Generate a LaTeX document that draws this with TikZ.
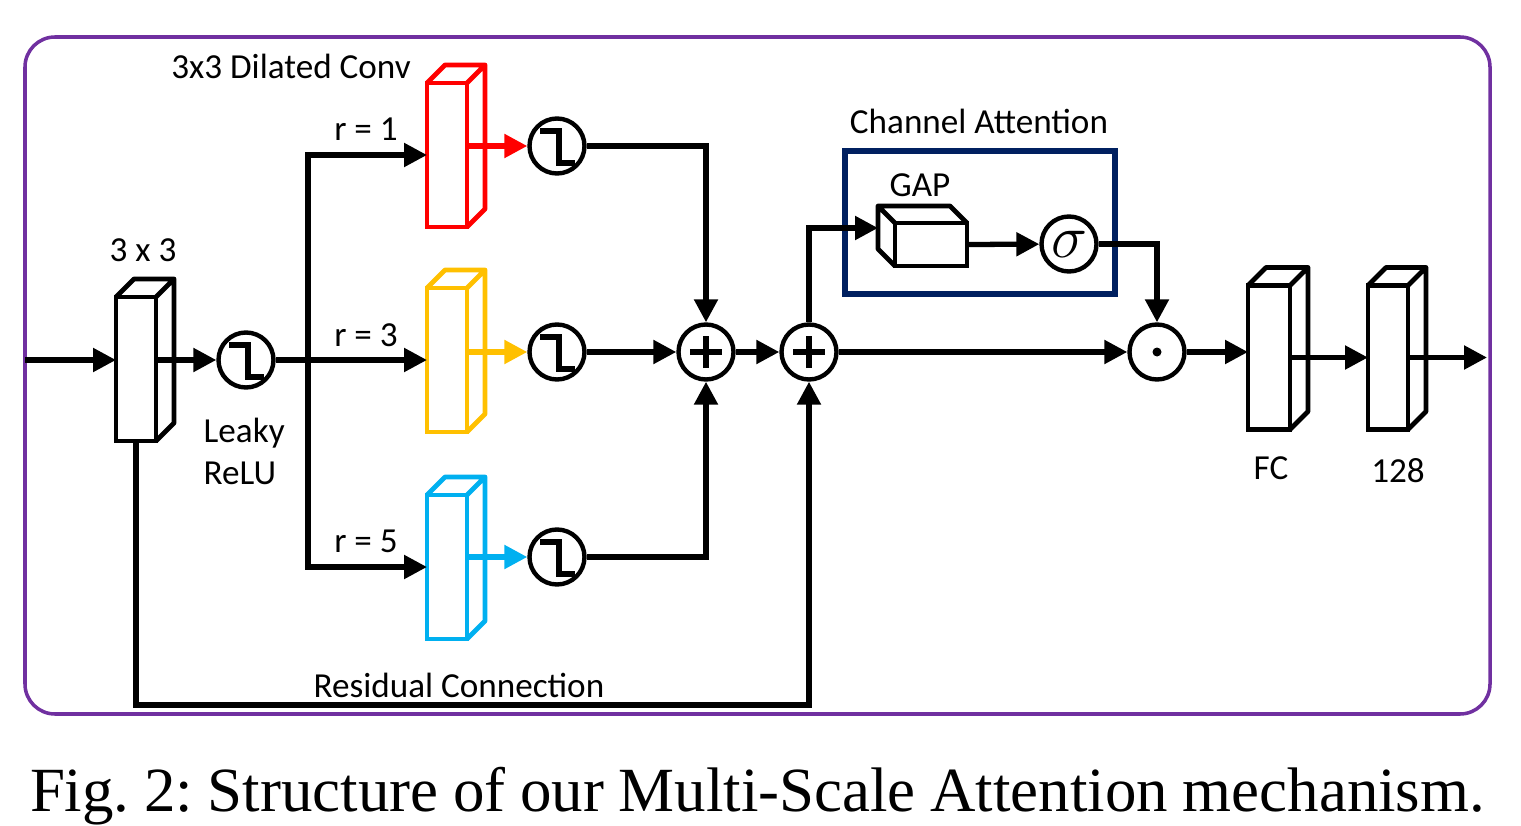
\documentclass[tikz,border=0pt]{standalone}
\usepackage{fontspec}
\setmainfont{Liberation Serif}
\newfontfamily\diagfont{Carlito}
\usetikzlibrary{arrows.meta}

\definecolor{convred}{HTML}{FF0000}
\definecolor{convyellow}{HTML}{FFC000}
\definecolor{convblue}{HTML}{00B0F0}
\definecolor{attnblue}{HTML}{002060}
\definecolor{framepurple}{HTML}{7030A0}

% depth faces of a layer block, pushed up and to the right
\newcommand{\slab}[2]{%
  \draw[#2, line width=1.35pt, line join=round]
    (#1.north west) -- ++(0.18,0.18) -- ([shift={(0.18,0.18)}]#1.north east)
    -- ([shift={(0.18,0.18)}]#1.south east) -- (#1.south east)
    (#1.north east) -- ++(0.18,0.18);}

\begin{document}
\begin{tikzpicture}[
    >={Triangle[length=2.3mm, width=2.3mm]},
    font=\diagfont\fontsize{10}{12.2}\selectfont,
    layer/.style={draw, fill=white, line width=1.35pt, minimum width=0.40cm,
                  minimum height=1.44cm, inner sep=0pt, outer sep=0pt},
    op/.style={circle, draw, fill=white, line width=1.25pt,
               minimum size=0.55cm, inner sep=0pt},
    relu/.style={op, path picture={\draw[line width=1.6pt]
        ([shift={(-0.17,0.15)}]path picture bounding box.center)
        -- ++(0.19,0) -- ++(0,-0.32) -- ++(0.16,0);}},
    add/.style={op, path picture={\draw[line width=1.6pt]
        ([xshift=-0.16cm]path picture bounding box.center) -- ++(0.32,0)
        ([yshift=-0.16cm]path picture bounding box.center) -- ++(0,0.32);}},
    mul/.style={op, path picture={\fill[black]
        (path picture bounding box.center) circle (0.045);}},
    lab/.style={inner sep=0pt},
    e/.style={->, line width=1.5pt},
  ]
    \useasboundingbox (0,0) rectangle (15.21,-8.26);
    \draw[framepurple, line width=1pt, rounded corners=0.3cm]
         (0.25,-0.37) rectangle (14.90,-7.14);
    % --- input block and activation --------------------------------------
    \coordinate (in) at (0.25,-3.60);
    \node[layer] (b33) at (1.36,-3.69) {};
    \slab{b33}{black}
    \node[lab, anchor=base] (t33) at (1.43,-2.62) {3 x 3};
    \node[relu] (rl0) at (2.46,-3.60) {};
    \node[lab, align=left, anchor=north west] (tlr) at (2.03,-4.17) {Leaky\\ReLU};
    \coordinate (sp) at (3.08,-3.60);
    % --- dilated branches -------------------------------------------------
    \node[lab, anchor=base] (tdc) at (2.91,-0.79) {3x3 Dilated Conv};
    \node[layer, draw=convred]    (rbox) at (4.47,-1.55) {};
    \slab{rbox}{convred}
    \node[layer, draw=convyellow] (ybox) at (4.47,-3.60) {};
    \slab{ybox}{convyellow}
    \node[layer, draw=convblue]   (bbox) at (4.47,-5.67) {};
    \slab{bbox}{convblue}
    \node[lab, anchor=base] (tr1) at (3.66,-1.41) {r = 1};
    \node[lab, anchor=base] (tr3) at (3.66,-3.47) {r = 3};
    \node[lab, anchor=base] (tr5) at (3.66,-5.52) {r = 5};
    \node[relu] (rl1) at (5.57,-1.46) {};
    \node[relu] (rl3) at (5.57,-3.52) {};
    \node[relu] (rl5) at (5.57,-5.57) {};
    % --- fusion and residual ----------------------------------------------
    \node[add] (p1) at (7.06,-3.52) {};
    \node[add] (p2) at (8.09,-3.52) {};
    \coordinate (rb) at (8.09,-7.05);
    \node[lab, anchor=base] (tres) at (4.59,-6.97) {Residual Connection};
    % --- channel attention ------------------------------------------------
    \node[draw=attnblue, line width=1.5pt, minimum width=2.70cm,
          minimum height=1.43cm] (ca) at (9.80,-2.225) {};
    \node[lab, anchor=base] (tca) at (9.79,-1.34) {Channel Attention};
    \node[layer, minimum width=0.72cm, minimum height=0.43cm] (gap) at (9.31,-2.445) {};
    \draw[line width=1.35pt, line join=round]
      (gap.north east) -- ++(-0.17,0.17) -- ([shift={(-0.17,0.17)}]gap.north west)
      -- ([shift={(-0.17,0.17)}]gap.south west) -- (gap.south west)
      (gap.north west) -- ++(-0.17,0.17);
    \node[lab, anchor=base] (tgap) at (9.20,-1.97) {GAP};
    \node[op] (sig) at (10.69,-2.44) {\fontsize{16}{16}\selectfont$\sigma$};
    \node[mul] (od) at (11.57,-3.52) {};
    % --- output layers ----------------------------------------------------
    \node[layer, minimum width=0.42cm] (fc) at (12.69,-3.575) {};
    \slab{fc}{black}
    \node[layer] (l128) at (13.88,-3.575) {};
    \slab{l128}{black}
    \coordinate (out) at (14.87,-3.575);
    \node[lab, anchor=base] (tfc) at (12.71,-4.79) {FC};
    \node[lab, anchor=base] (t128) at (13.98,-4.82) {128};
    % --- edges ------------------------------------------------------------
    \draw[e] (in) -- (b33.west |- in);
    \draw[e] (b33.east |- rl0) -- (rl0);
    \draw[line width=1.5pt] (rl0) -- (sp);
    \draw[e] (sp) |- (rbox.west);
    \draw[e] (sp) -- (ybox.west);
    \draw[e] (sp) |- (bbox.west);
    \draw[e, convred]    (rbox.east |- rl1) -- (rl1);
    \draw[e, convyellow] (ybox.east |- rl3) -- (rl3);
    \draw[e, convblue]   (bbox.east |- rl5) -- (rl5);
    \draw[e] (rl1) -| (p1);
    \draw[e] (rl3) -- (p1);
    \draw[e] (rl5) -| (p1);
    \draw[e] (p1) -- (p2);
    \draw[e] (b33.south) |- (rb) -- (p2);
    \draw[e] (p2) |- ([shift={(-0.17,0.165)}]gap.west);
    \draw[e] (gap.east) -- (sig);
    \draw[e] (sig) -| (od);
    \draw[e] (p2) -- (od);
    \draw[e] (od) -- (fc.west |- od);
    \draw[e] (fc.east) -- (l128.west);
    \draw[e] (l128.east) -- (out);
    % --- caption ----------------------------------------------------------
    \node[anchor=base, inner sep=0pt, font=\rmfamily\fontsize{17.9}{20}\selectfont\frenchspacing]
         (cap) at (7.575,-8.11)
         {\makebox[14.55cm][s]{Fig. 2: Structure of our Multi-Scale Attention mechanism.}};
\end{tikzpicture}
\end{document}
